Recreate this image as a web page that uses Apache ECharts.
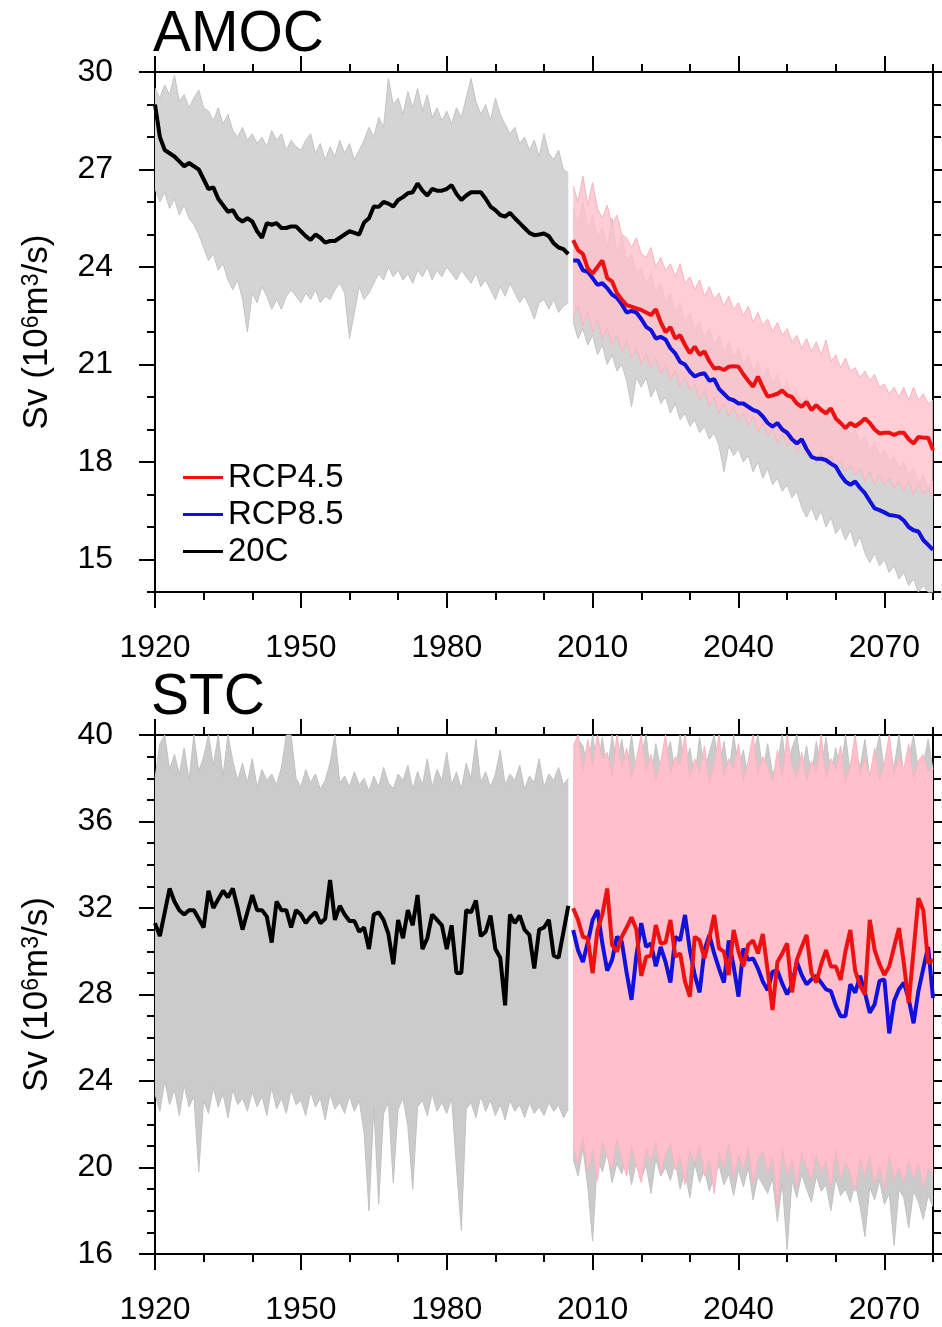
<!DOCTYPE html>
<html><head><meta charset="utf-8">
<script src="https://cdn.jsdelivr.net/npm/echarts@6/dist/echarts.min.js"></script>
<style>html,body{margin:0;padding:0;background:#fff}#c{width:942px;height:1327px}</style>
</head><body><div id="c"></div>
<script>
// ---------------- data ----------------
const start20C = 1920;
const startRCP = 2006;
const xMajorTicks = [1920, 1950, 1980, 2010, 2040, 2070];
const amocYTicks = [15, 18, 21, 24, 27, 30];
const stcYTicks = [16, 20, 24, 28, 32, 36, 40];

// AMOC ensemble means
const amoc20C = [
  29.0, 28.0, 27.6, 27.5, 27.4, 27.25, 27.1, 27.2, 27.1, 27.0,
  26.7, 26.4, 26.45, 26.1, 25.9, 25.7, 25.75, 25.5, 25.4, 25.5,
  25.4, 25.1, 24.9, 25.35, 25.3, 25.35, 25.2, 25.2, 25.25, 25.25,
  25.1, 24.95, 24.83, 25.0, 24.9, 24.75, 24.8, 24.8, 24.9, 25.0,
  25.1, 25.05, 25.0, 25.37, 25.5, 25.86, 25.85, 26.0, 25.95, 25.86,
  26.06, 26.15, 26.27, 26.3, 26.57, 26.35, 26.2, 26.4, 26.35, 26.35,
  26.4, 26.52, 26.25, 26.06, 26.2, 26.3, 26.3, 26.3, 26.1, 25.86,
  25.75, 25.6, 25.55, 25.67, 25.5, 25.35, 25.2, 25.05, 24.98, 25.0,
  25.03, 24.95, 24.73, 24.6, 24.55, 24.4
];
const amocRCP45 = [
  24.83, 24.52, 24.4, 23.96, 23.8, 24.0, 24.2, 23.66, 23.56, 23.19,
  23.0, 22.83, 22.78, 22.73, 22.68, 22.6, 22.52, 22.7, 22.3, 22.0,
  22.15, 21.8, 21.9, 21.6, 21.35, 21.55, 21.3, 21.4, 21.1, 20.88,
  20.9, 20.83, 20.93, 20.95, 20.93, 20.7, 20.5, 20.32, 20.63, 20.3,
  20.01, 20.05, 20.1, 20.2, 20.05, 20.0, 19.8, 19.7, 19.85, 19.6,
  19.75, 19.6, 19.5, 19.65, 19.34, 19.2, 19.04, 19.2, 19.1, 19.2,
  19.34, 19.2, 19.0, 18.88, 18.9, 18.9, 18.83, 18.9, 18.9, 18.7,
  18.57, 18.77, 18.75, 18.75, 18.37
];
const amocRCP85 = [
  24.2, 24.2, 23.9, 23.85, 23.66, 23.45, 23.5, 23.35, 23.15, 23.05,
  22.85, 22.6, 22.65, 22.6, 22.4, 22.16, 22.06, 21.8, 21.85, 21.77,
  21.5, 21.34, 21.08, 21.0, 20.78, 20.63, 20.7, 20.73, 20.5, 20.55,
  20.25, 20.1, 19.95, 19.9, 19.8, 19.8, 19.7, 19.6, 19.55, 19.4,
  19.2, 19.09, 19.2, 19.0, 18.9, 18.7, 18.57, 18.7, 18.4, 18.16,
  18.1, 18.1, 18.06, 17.95, 17.86, 17.6, 17.4, 17.3, 17.4, 17.2,
  17.04, 16.8, 16.57, 16.52, 16.45, 16.37, 16.35, 16.32, 16.2, 16.0,
  15.9, 15.86, 15.6, 15.45, 15.3
];
// AMOC ensemble member spread (lower / upper envelope)
const amoc20CLow = [
  26.4, 26.0, 26.3, 25.8, 26.1, 25.6, 25.9, 25.5, 25.3, 25.0,
  24.6, 24.2, 24.4, 23.9, 24.1, 23.6, 23.3, 23.6, 23.0, 22.0,
  23.2, 22.9, 23.4, 23.1, 22.7, 23.0, 22.7, 23.1, 23.3, 23.1,
  22.9, 23.2, 23.0, 23.3, 22.9, 23.1, 23.0, 23.3, 23.5, 23.2,
  21.8, 22.6, 23.4, 23.0, 23.2, 23.5, 23.8, 23.6, 24.0, 23.7,
  23.9, 23.6, 23.8, 23.5, 23.9, 23.7, 24.0, 23.6, 23.9, 23.7,
  24.0, 23.8, 23.6, 23.9, 23.7, 23.5, 23.8, 23.4, 23.6, 23.3,
  23.0, 23.4, 23.1, 23.5, 23.2, 22.9, 23.1, 22.8, 22.4, 22.9,
  23.0, 22.7, 23.0, 22.6, 22.8, 22.9
];
const amoc20CHigh = [
  29.5, 29.2, 29.6, 29.3, 29.9, 29.1, 29.3, 28.9, 29.2, 29.45,
  28.9, 28.8, 28.5, 28.9, 28.4, 28.7, 28.2, 28.0, 28.3, 27.9,
  28.1, 27.8, 28.0, 27.7, 28.2, 27.9, 28.1, 27.6, 27.9, 27.7,
  27.6, 27.9, 28.1, 27.5, 27.8, 27.3, 27.7, 27.4, 27.9, 27.5,
  27.8, 27.3, 27.6, 27.9, 28.3, 28.0, 28.6, 28.3, 29.8, 29.0,
  29.2, 28.7, 29.4, 28.9, 29.5, 28.8, 29.3, 28.6, 28.9, 28.5,
  28.8, 28.4, 28.9, 28.6, 29.2, 29.8, 29.1, 28.7, 29.0, 28.5,
  29.2, 28.7, 28.4, 28.1, 28.3, 27.8, 28.0, 27.6, 27.9, 27.4,
  28.1, 27.5, 27.3, 27.6, 27.0, 26.9
];
const amocRCP45Low = [
  22.4, 22.8, 22.2, 22.6, 22.0, 22.4, 21.8, 22.1, 21.6, 21.9,
  21.4, 21.7, 21.2, 21.5, 21.0, 21.3, 20.9, 21.2, 20.7, 21.0,
  20.5, 20.8, 20.3, 20.6, 20.2, 20.4, 19.9, 20.2, 19.7, 20.0,
  19.5, 19.8, 19.4, 19.7, 19.3, 19.5, 19.1, 19.4, 18.9, 19.2,
  18.8, 19.0, 18.6, 18.9, 18.5, 18.7, 18.3, 18.6, 18.2, 18.4,
  18.0, 18.3, 17.9, 18.2, 17.8, 18.0, 17.7, 17.9, 17.6, 17.8,
  17.4, 17.7, 17.3, 17.6, 17.3, 17.5, 17.2, 17.4, 17.1, 17.4,
  17.0, 17.3, 17.0, 17.2, 16.9
];
const amocRCP45High = [
  26.5, 26.0, 26.8, 25.9, 26.6, 25.8, 25.5, 25.9, 25.3, 25.6,
  25.0, 24.9, 24.6, 24.9, 24.4, 24.3, 24.6, 24.0, 24.3, 23.9,
  24.1, 23.7, 24.1, 23.5, 23.7, 23.3, 23.6, 23.1, 23.4, 23.0,
  23.2, 22.8, 23.1, 22.7, 22.9, 22.5, 22.8, 22.3, 22.6, 22.2,
  22.4, 22.0, 22.3, 21.9, 22.1, 21.7, 21.9, 21.5, 21.8, 21.4,
  21.7, 21.3, 21.75, 21.1, 21.3, 20.9, 21.2, 20.8, 20.9, 20.6,
  20.8, 20.5, 20.7, 20.3, 20.4, 20.1, 20.3, 20.0, 20.3, 19.9,
  20.3, 19.9, 20.1, 19.8, 19.9
];
const amocRCP85Low = [
  22.3, 21.8, 22.1, 21.6, 21.9, 21.3, 21.6, 21.0, 21.3, 20.8,
  21.0, 20.5, 19.7, 20.6, 20.3, 20.6, 20.0, 20.3, 19.8, 20.0,
  19.5, 19.8, 19.3, 19.5, 19.1, 19.3, 18.9, 19.1, 18.7, 18.9,
  18.5, 17.7, 18.5, 18.2, 18.4, 18.0, 18.2, 17.7, 18.0, 17.5,
  17.8, 17.3, 17.5, 17.1, 17.3, 16.9, 17.1, 16.6, 16.3, 16.6,
  16.2, 16.5, 16.0, 16.3, 15.8, 16.0, 15.6, 15.9, 15.4, 15.7,
  15.2, 14.9, 15.2, 14.8, 15.0, 14.6, 14.8, 14.4, 14.6, 14.2,
  14.4, 14.0, 14.2, 14.0, 14.0
];
const amocRCP85High = [
  25.8, 25.3, 26.0, 25.2, 25.6, 24.9, 25.2, 24.6, 25.5, 24.4,
  25.0, 24.2, 24.4, 23.8, 24.0, 23.5, 23.8, 23.2, 23.5, 22.9,
  23.2, 22.6, 22.9, 22.3, 22.6, 22.1, 22.3, 21.8, 22.1, 21.6,
  21.9, 21.4, 21.7, 21.2, 21.5, 21.0, 21.3, 20.8, 21.1, 20.6,
  20.9, 20.4, 20.7, 20.2, 20.5, 20.0, 20.2, 19.8, 20.0, 19.6,
  19.9, 19.4, 19.7, 19.2, 19.5, 19.0, 19.2, 18.8, 19.0, 18.6,
  18.8, 18.4, 18.6, 18.2, 18.4, 18.0, 18.2, 17.8, 18.0, 17.6,
  17.8, 17.4, 17.6, 17.2, 17.4
];

// STC ensemble means
const stc20C = [
  31.3, 30.7, 31.8, 32.9, 32.3, 31.9, 31.7, 31.9, 31.9, 31.5,
  31.1, 32.8, 32.0, 32.4, 32.8, 32.5, 32.9, 32.0, 31.0, 31.8,
  32.6, 31.9, 31.9, 31.6, 30.4, 32.3, 31.9, 31.9, 31.1, 31.9,
  31.7, 31.3, 31.6, 31.8, 31.3, 31.5, 33.3, 31.45, 32.1, 31.7,
  31.4, 31.4, 30.9, 31.1, 30.1, 31.7, 31.8, 31.45, 30.8, 29.4,
  31.45, 30.6, 31.9, 31.2, 32.6, 30.1, 30.6, 31.7, 31.45, 31.2,
  30.1, 31.2, 29.0, 29.0, 31.9, 31.8, 32.35, 30.7, 30.9, 31.65,
  30.1, 29.7, 27.5, 31.7, 31.3, 31.65, 31.0, 30.75, 29.2, 31.0,
  31.1, 31.45, 29.8, 29.7, 30.9, 32.1
];
const stcRCP45 = [
  31.99, 31.45, 30.67, 30.6, 28.98, 30.98, 31.7, 32.9, 30.29, 29.98,
  30.67, 31.1, 31.57, 31.0, 28.86, 29.74, 29.8, 31.21, 30.36, 30.4,
  31.45, 29.75, 29.9, 28.6, 27.9, 30.67, 30.5, 29.67, 30.6, 31.68,
  30.13, 29.98, 28.9, 30.98, 29.98, 29.3, 30.3, 30.5, 29.9, 30.8,
  29.1, 27.28, 29.5, 29.9, 30.36, 28.1, 29.6, 30.2, 30.75, 29.0,
  28.55, 29.4, 30.05, 29.3, 29.3, 28.68, 30.0, 30.98, 29.1, 28.4,
  28.0, 31.45, 30.05, 29.4, 28.9, 29.3, 30.2, 31.07, 29.45, 27.6,
  30.0, 32.45, 31.9, 29.45, 29.6
];
const stcRCP85 = [
  30.98, 30.05, 29.5, 30.4, 31.45, 31.9, 30.36, 29.1, 29.6, 30.67,
  30.44, 29.0, 27.75, 29.8, 31.3, 30.2, 30.36, 29.3, 30.2, 29.5,
  28.55, 30.67, 30.5, 31.68, 30.05, 28.9, 28.1, 30.05, 30.75, 29.9,
  29.2, 28.55, 30.5, 29.3, 27.9, 30.13, 29.6, 29.67, 29.2, 28.6,
  28.2, 29.05, 29.1, 28.5, 28.0, 28.47, 29.5, 28.9, 28.47, 28.7,
  28.86, 28.55, 28.24, 28.16, 27.5, 27.0, 27.0, 28.47, 28.08, 28.86,
  28.08, 27.16, 27.55, 28.63, 28.7, 26.2, 27.7, 28.24, 28.55, 27.8,
  26.67, 28.16, 29.2, 30.2, 27.83
];
// STC ensemble member spread (lower / upper envelope)
const stc20CLow = [
  23.4, 22.6, 24.0, 22.9, 23.6, 22.4, 23.8, 22.8, 23.3, 19.8,
  23.1, 22.5, 23.7, 22.8, 23.4, 22.3, 23.6, 22.9, 23.2, 22.6,
  23.5, 22.8, 23.3, 22.4, 23.7, 22.7, 23.2, 22.5, 23.6, 22.9,
  23.1, 22.4, 23.5, 22.8, 23.2, 22.2, 23.4, 22.7, 23.0, 22.5,
  23.3, 22.6, 23.1, 21.6, 18.0, 22.8, 18.3, 22.5, 23.0, 19.3,
  22.7, 23.2, 21.9, 19.0, 22.8, 23.1, 22.4, 23.4, 22.6, 23.0,
  22.5, 23.2, 20.0, 17.1, 22.7, 23.0, 22.3, 23.3, 22.6, 23.1,
  22.4, 22.9, 22.2, 23.1, 22.6, 22.9, 22.3, 23.0, 22.5, 22.8,
  22.4, 23.0, 22.6, 22.9, 22.3, 22.7
];
const stc20CHigh = [
  38.0, 39.6, 40.5, 38.4, 39.1, 38.2, 39.4, 37.9, 40.4, 38.3,
  39.0, 40.5, 38.6, 40.3, 38.1, 40.4, 38.8, 37.9, 38.7, 37.8,
  38.9, 37.6, 38.4, 37.9, 38.2, 37.7, 38.5, 40.2, 40.3, 38.0,
  37.6, 38.4, 37.8, 38.2, 37.5, 37.9, 38.7, 40.2, 37.8, 38.1,
  37.6, 38.3, 37.7, 38.0, 37.4, 38.1, 37.6, 38.5, 37.8, 37.5,
  38.2, 37.9, 38.6, 37.5, 38.3, 37.7, 38.9, 37.6, 38.4, 37.9,
  39.2, 37.7, 38.3, 37.5, 38.7, 38.0, 39.8, 37.8, 38.3, 37.6,
  38.2, 39.3, 37.7, 38.2, 37.9, 38.6, 37.5, 38.1, 37.8, 38.9,
  37.6, 38.2, 37.9, 38.5, 37.7, 38.0
];
const stcRCP45Low = [
  21.0, 20.2, 21.4, 19.8, 20.8, 19.4, 21.2, 20.5, 19.9, 21.3,
  20.4, 19.6, 21.0, 20.1, 19.3, 20.9, 20.3, 21.2, 19.7, 20.6,
  21.1, 19.9, 20.5, 19.2, 20.8, 20.2, 21.0, 19.6, 20.4, 18.8,
  20.7, 20.0, 21.1, 19.5, 20.6, 19.9, 20.9, 19.3, 20.3, 20.8,
  19.7, 20.5, 18.2, 20.9, 19.6, 20.4, 19.1, 20.7, 20.0, 19.4,
  20.6, 19.8, 20.3, 19.0, 20.8, 19.5, 20.2, 19.7, 18.9, 20.4,
  19.6, 20.5, 19.2, 20.1, 19.0, 20.6, 19.4, 20.0, 19.3, 20.3,
  19.5, 20.2, 19.1, 20.0, 19.6
];
const stcRCP45High = [
  39.5, 40.5, 38.3, 39.8, 38.6, 40.4, 38.9, 39.2, 38.1, 40.3,
  38.5, 39.4, 38.0, 38.9, 40.2, 38.3, 39.1, 37.9, 38.8, 40.4,
  38.2, 39.0, 38.6, 40.1, 38.0, 38.9, 38.3, 39.5, 37.8, 38.7,
  40.2, 38.1, 38.9, 38.4, 39.6, 37.9, 38.8, 40.3, 38.2, 39.0,
  38.5, 37.8, 39.3, 38.1, 40.1, 38.6, 38.0, 39.2, 37.9, 38.8,
  38.3, 40.2, 38.0, 38.9, 38.4, 39.5, 37.8, 38.6, 40.0, 38.2,
  38.9, 38.1, 39.4, 37.9, 38.7, 40.3, 38.2, 39.0, 38.4, 39.6,
  38.0, 38.8, 39.1, 38.3, 38.6
];
const stcRCP85Low = [
  20.4, 19.6, 20.9, 19.1, 16.6, 20.5, 19.8, 20.7, 19.3, 20.2,
  19.7, 20.6, 19.2, 20.3, 19.5, 20.1, 18.8, 20.4, 19.6, 20.0,
  19.4, 20.3, 19.0, 19.8, 18.6, 20.2, 19.3, 19.9, 18.9, 19.6,
  20.1, 19.2, 19.7, 18.7, 19.9, 19.1, 20.0, 18.5, 19.6, 19.2,
  18.8, 19.5, 17.5, 19.3, 16.2, 19.4, 18.6, 19.7, 19.0, 18.4,
  19.6, 18.9, 19.2, 18.0, 19.5, 18.7, 19.0, 18.4, 19.3, 18.2,
  16.8, 19.1, 18.5, 19.4, 18.3, 18.8, 16.4, 19.0, 18.6, 17.2,
  18.9, 18.4, 17.6, 18.7, 18.2
];
const stcRCP85High = [
  38.6, 39.8, 39.5, 38.4, 40.3, 38.5, 39.9, 38.2, 40.2, 38.6,
  39.8, 38.3, 40.1, 38.2, 39.0, 40.2, 38.0, 39.6, 38.4, 39.0,
  39.7, 38.1, 40.2, 38.5, 39.4, 38.0, 39.9, 38.3, 39.2, 40.3,
  38.4, 39.7, 38.2, 40.0, 38.5, 39.3, 38.0, 39.1, 40.2, 38.3,
  39.6, 38.2, 38.7, 40.1, 38.0, 39.4, 40.2, 38.3, 39.5, 38.1,
  39.7, 38.4, 39.9, 38.2, 39.4, 38.3, 40.1, 38.2, 39.3, 38.5,
  39.8, 38.0, 38.9, 40.2, 38.3, 39.0, 38.5, 40.0, 38.1, 38.9,
  40.1, 38.3, 38.6, 39.8, 38.4
];

// ---------------- chart ----------------
const FONT = "'Liberation Sans', Arial, Helvetica, sans-serif";
const pts = (s, a) => a.map((v, i) => [s + i, v]);
const yearFmt = v => String(v);

function xAxesFor(g) {
  const common = { type: 'value', gridIndex: g, min: 1920, max: 2080, splitLine: { show: false } };
  const major = (pos, lbl) => Object.assign({}, common, {
    position: pos, interval: 30,
    axisLine: { show: true, onZero: false, lineStyle: { color: '#000', width: 2 } },
    axisTick: { show: true, length: 16, customValues: xMajorTicks, lineStyle: { color: '#000', width: 2 } },
    axisLabel: { show: lbl, customValues: xMajorTicks, formatter: yearFmt, margin: 40, fontSize: 32, color: '#000', fontFamily: FONT }
  });
  const minor = (pos) => Object.assign({}, common, {
    position: pos, interval: 10,
    axisLine: { show: false, onZero: false },
    axisTick: { show: true, length: 8, lineStyle: { color: '#000', width: 2 } },
    axisLabel: { show: false }
  });
  return [major('bottom', true), minor('bottom'), major('top', false), minor('top')];
}
function yAxesFor(g, min, max, ticks) {
  const common = { type: 'value', gridIndex: g, min: min, max: max, splitLine: { show: false } };
  const major = (pos, lbl) => Object.assign({}, common, {
    position: pos,
    axisLine: { show: true, onZero: false, lineStyle: { color: '#000', width: 2 } },
    axisTick: { show: true, length: 16, customValues: ticks, lineStyle: { color: '#000', width: 2 } },
    axisLabel: { show: lbl, customValues: ticks, margin: 42, fontSize: 32, color: '#000', fontFamily: FONT },
    name: lbl ? 'Sv (10{s|6}m{s|3}/s)' : '',
    nameLocation: 'middle', nameGap: 100, nameRotate: 90,
    nameTextStyle: {
      fontSize: 35, color: '#000', fontFamily: FONT,
      rich: { s: { fontSize: 23, color: '#000', fontFamily: FONT, verticalAlign: 'top', padding: [0, 0, 6, 0] } }
    }
  });
  const minor = (pos) => Object.assign({}, common, {
    position: pos, interval: 1,
    axisLine: { show: false, onZero: false },
    axisTick: { show: true, length: 8, lineStyle: { color: '#000', width: 2 } },
    axisLabel: { show: false }
  });
  return [major('left', true), minor('left'), major('right', false), minor('right')];
}

// ensemble spread drawn as a filled band through the axis scales (api.coord)
function band(g, start, lo, hi, fill, edge, opacity) {
  const ax = g * 4;
  return {
    type: 'custom', xAxisIndex: ax, yAxisIndex: ax, silent: true,
    data: [[start, lo[0]]],
    renderItem: function (params, api) {
      const cs = params.coordSys;
      const cy = y => Math.max(cs.y, Math.min(cs.y + cs.height, y));
      const top = hi.map((v, i) => { const p = api.coord([start + i, v]); return [p[0], cy(p[1])]; });
      const bot = lo.map((v, i) => { const p = api.coord([start + i, v]); return [p[0], cy(p[1])]; });
      return {
        type: 'group', children: [
          { type: 'polygon', shape: { points: top.concat(bot.slice().reverse()) }, style: { fill: fill, opacity: opacity } },
          { type: 'polyline', shape: { points: top }, style: { stroke: edge, lineWidth: 1, fill: null } },
          { type: 'polyline', shape: { points: bot }, style: { stroke: edge, lineWidth: 1, fill: null } }
        ]
      };
    }
  };
}
function mean(g, name, start, vals, color) {
  const ax = g * 4;
  return { type: 'line', name: name, xAxisIndex: ax, yAxisIndex: ax, symbol: 'none', silent: true,
    data: pts(start, vals), color: color, itemStyle: { color: color },
    lineStyle: { width: 4, color: color } };
}

const RED = '#ee1111', BLUE = '#1111dd', BLACK = '#000000';
const GRAY_A = '#d4d4d4', GRAY_E = '#c4c4c4', PINK = '#ffc0cb', PINK_E = '#f9b3c0';

const series = [
  band(0, start20C, amoc20CLow, amoc20CHigh, GRAY_A, GRAY_E, 1),
  band(0, startRCP, amocRCP85Low, amocRCP85High, GRAY_A, GRAY_E, 1),
  band(0, startRCP, amocRCP45Low, amocRCP45High, PINK, PINK_E, 0.8),
  mean(0, '20C', start20C, amoc20C, BLACK),
  mean(0, 'RCP8.5', startRCP, amocRCP85, BLUE),
  mean(0, 'RCP4.5', startRCP, amocRCP45, RED),
  band(1, start20C, stc20CLow, stc20CHigh, '#cbcbcb', '#c2c2c2', 1),
  band(1, startRCP, stcRCP85Low, stcRCP85High, '#cbcbcb', '#c2c2c2', 1),
  band(1, startRCP, stcRCP45Low, stcRCP45High, PINK, PINK_E, 1),
  mean(1, 'STC 20C', start20C, stc20C, BLACK),
  mean(1, 'STC RCP8.5', startRCP, stcRCP85, BLUE),
  mean(1, 'STC RCP4.5', startRCP, stcRCP45, RED)
];

const chart = echarts.init(document.getElementById('c'), null, { renderer: 'canvas' });
chart.setOption({
  animation: false,
  backgroundColor: '#ffffff',
  title: [
    { text: 'AMOC', left: 153, top: 7, padding: 0, textStyle: { fontSize: 57, fontWeight: 'normal', color: '#000', fontFamily: FONT } },
    { text: 'STC', left: 151, top: 670, padding: 0, textStyle: { fontSize: 57, fontWeight: 'normal', color: '#000', fontFamily: FONT } }
  ],
  legend: {
    data: ['RCP4.5', 'RCP8.5', '20C'], orient: 'vertical', left: 183, top: 461, padding: 0,
    icon: 'rect', itemWidth: 40, itemHeight: 3, itemGap: 4, selectedMode: false,
    textStyle: { fontSize: 33, color: '#000', fontFamily: FONT }
  },
  grid: [
    { left: 155, top: 72, width: 778, height: 520, containLabel: false, outerBoundsMode: 'none' },
    { left: 155, top: 735, width: 778, height: 519, containLabel: false, outerBoundsMode: 'none' }
  ],
  xAxis: [].concat(xAxesFor(0), xAxesFor(1)),
  yAxis: [].concat(yAxesFor(0, 14, 30, amocYTicks), yAxesFor(1, 16, 40, stcYTicks)),
  series: series
});
</script>
</body></html>
